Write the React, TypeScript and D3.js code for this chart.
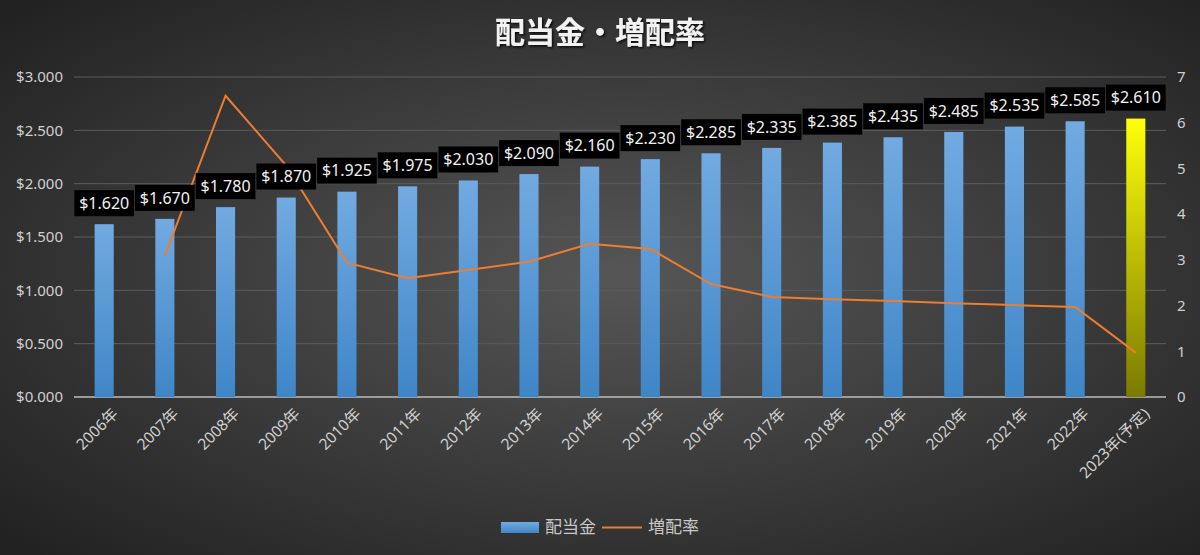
import * as d3 from "d3";

const years = [
  "2006年", "2007年", "2008年", "2009年", "2010年", "2011年", "2012年", "2013年", "2014年",
  "2015年", "2016年", "2017年", "2018年", "2019年", "2020年", "2021年", "2022年", "2023年(予定)",
];
const dividends = [
  1.62, 1.67, 1.78, 1.87, 1.925, 1.975, 2.03, 2.09, 2.16,
  2.23, 2.285, 2.335, 2.385, 2.435, 2.485, 2.535, 2.585, 2.61,
];
// 増配率 (%), no value for the first year
const growth: (number | null)[] = [
  null, 3.09, 6.59, 5.06, 2.94, 2.6, 2.78, 2.96, 3.35,
  3.24, 2.47, 2.19, 2.14, 2.1, 2.05, 2.01, 1.97, 0.97,
];
const leftTicks = [0, 0.5, 1, 1.5, 2, 2.5, 3];
const rightTicks = [0, 1, 2, 3, 4, 5, 6, 7];

const W = 1200;
const H = 555;
const FONT = "'Noto Sans', 'Noto Sans CJK JP', sans-serif";

export default function App() {
  const x = d3.scaleBand<string>().domain(years).range([74, 1166]).paddingInner(0.685).paddingOuter(0.34);
  const y = d3.scaleLinear().domain([0, 3]).range([397, 77]);
  const y2 = d3.scaleLinear().domain([0, 7]).range([397, 77]);

  const cx = (d: string) => (x(d) ?? 0) + x.bandwidth() / 2;
  const step = x.step();

  const pts = years
    .map((d, i) => ({ d, v: growth[i] }))
    .filter((p) => p.v !== null) as { d: string; v: number }[];
  const line = d3
    .line<{ d: string; v: number }>()
    .x((p) => cx(p.d))
    .y((p) => y2(p.v));

  const fmt = (v: number) => "$" + d3.format(".3f")(v);

  return (
    <svg width={W} height={H} style={{ position: "absolute", left: 0, top: 0 }} fontFamily={FONT}>
      <defs>
        <radialGradient id="bg" cx="52%" cy="50%" r="75%">
          <stop offset="0%" stopColor="#565656" />
          <stop offset="100%" stopColor="#1e1e1e" />
        </radialGradient>
        <linearGradient id="blue" x1="0" y1="0" x2="0" y2="1">
          <stop offset="0%" stopColor="#72aae1" />
          <stop offset="100%" stopColor="#3f86c7" />
        </linearGradient>
        <linearGradient id="yellow" x1="0" y1="0" x2="0" y2="1">
          <stop offset="0%" stopColor="#ffff0a" />
          <stop offset="100%" stopColor="#7a7a00" />
        </linearGradient>
        <filter id="shadow" x="-10%" y="-10%" width="120%" height="140%">
          <feDropShadow dx="1.5" dy="1.5" stdDeviation="1" floodColor="#000" floodOpacity="0.8" />
        </filter>
      </defs>
      <rect width={W} height={H} fill="url(#bg)" />

      <text x={600} y={43} textAnchor="middle" fontSize={30} fontWeight="bold" fill="#f2f2f2"
        filter="url(#shadow)" fontFamily="'Noto Sans CJK JP', sans-serif">
        配当金・増配率
      </text>

      {/* gridlines */}
      {leftTicks.map((t) => (
        <line key={t} x1={74} x2={1166} y1={y(t)} y2={y(t)} stroke={t === 0 ? "#bdbdbd" : "#5c5c5c"}
          strokeWidth={t === 0 ? 1.5 : 1} />
      ))}

      {/* left axis */}
      {leftTicks.map((t) => (
        <text key={t} x={63} y={y(t)} dy="0.35em" textAnchor="end" fontSize={15} fill="#d0d0d0">
          {fmt(t)}
        </text>
      ))}
      {/* right axis */}
      {rightTicks.map((t) => (
        <text key={t} x={1177} y={y2(t)} dy="0.35em" textAnchor="start" fontSize={15} fill="#d0d0d0">
          {t}
        </text>
      ))}

      {/* bars */}
      {years.map((d, i) => (
        <rect key={d} x={x(d)} y={y(dividends[i])} width={x.bandwidth()} height={y(0) - y(dividends[i])}
          fill={i === years.length - 1 ? "url(#yellow)" : "url(#blue)"} />
      ))}

      <path d={line(pts) ?? ""} fill="none" stroke="#ed7d31" strokeWidth={2} />

      {/* data labels */}
      {years.map((d, i) => {
        const bw = step - 1;
        const top = y(dividends[i]) - 8 - 26;
        return (
          <g key={d}>
            <rect x={cx(d) - bw / 2} y={top} width={bw} height={26} fill="#000" />
            <text x={cx(d)} y={top + 13} dy="0.36em" textAnchor="middle" fontSize={16} fill="#f2f2f2">
              {fmt(dividends[i])}
            </text>
          </g>
        );
      })}

      {/* x labels */}
      {years.map((d) => (
        <text key={d} transform={`translate(${cx(d) + 7},${407}) rotate(-45)`} textAnchor="end" dy="0.7em"
          fontSize={15.5} fill="#d0d0d0">
          {d}
        </text>
      ))}

      {/* legend */}
      <rect x={501} y={522} width={38} height={11} fill="url(#blue)" />
      <text x={545} y={527.5} dy="0.35em" fontSize={17} fill="#c8c8c8">配当金</text>
      <line x1={602} x2={642} y1={527.5} y2={527.5} stroke="#ed7d31" strokeWidth={2} />
      <text x={648} y={527.5} dy="0.35em" fontSize={17} fill="#c8c8c8">増配率</text>
    </svg>
  );
}
